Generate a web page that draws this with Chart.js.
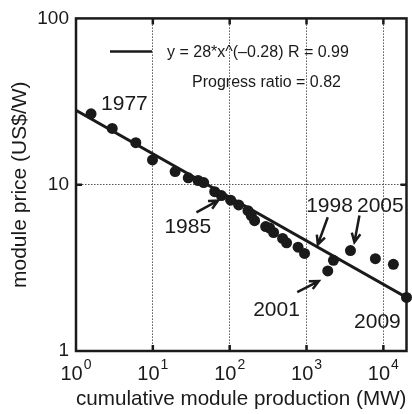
<!DOCTYPE html>
<html><head><meta charset="utf-8">
<script src="https://cdn.jsdelivr.net/npm/chart.js@4"></script>
<style>html,body{margin:0;padding:0;background:#fff}#c{display:block}</style>
</head><body>
<canvas id="c" width="412" height="414"></canvas>
<script>
// ---- data ----
const production = [1.57,2.96,6.0,9.9,19.5,28.9,38.8,45.9,63.8,78.0,103,131,173,191,211,294,331,373,488,550,776,942,1890,2240,3730,7870,13500,20000];
const price      = [26.7,21.8,17.9,14.1,12.0,11.0,10.6,10.3,9.08,8.6,8.07,7.56,6.98,6.52,6.08,5.6,5.49,5.16,4.75,4.47,4.21,3.86,3.03,3.51,4.02,3.59,3.32,2.1];
const fitX = [1, 20000];
const fitY = [28, 2.1];
const xTicks = [1, 10, 100, 1000, 10000];
const xTickExp = ['0','1','2','3','4'];
const yTicks = [1, 10, 100];
const legendLines = ['y = 28*x^(\u20130.28) R = 0.99', 'Progress ratio = 0.82'];
const yearLabels = ['1977','1985','1998','2005','2001','2009'];
const yearLabelAt = [[4.27,31.1],[28.5,5.6],[1990,7.48],[9140,7.48],[407,1.785],[8360,1.51]];
const arrowFrom = [[36.9,6.82],[1890,6.37],[4880,6.52],[757,2.26]];
const arrowTo   = [[70.5,8.02],[1403,4.37],[4200,4.51],[1445,2.63]];
const xTitle = 'cumulative module production (MW)';
const yTitle = 'module price (US$/W)';

const FONT = "'Liberation Sans', Arial, Helvetica, sans-serif";
const INK = '#1a1a1a';

const overlay = {
  id: 'overlay',
  afterDraw(chart) {
    const {ctx, chartArea: a, scales: {x, y}} = chart;
    ctx.save();
    // frame
    ctx.strokeStyle = INK; ctx.lineWidth = 2.5;
    ctx.strokeRect(a.left, a.top, a.right - a.left, a.bottom - a.top);
    // inward ticks
    const tl = 6;
    ctx.beginPath();
    xTicks.slice(1).forEach(v => {
      const px = x.getPixelForValue(v);
      ctx.moveTo(px, a.top); ctx.lineTo(px, a.top + tl);
      ctx.moveTo(px, a.bottom); ctx.lineTo(px, a.bottom - tl);
    });
    yTicks.slice(1, -1).forEach(v => {
      const py = y.getPixelForValue(v);
      ctx.moveTo(a.left, py); ctx.lineTo(a.left + tl, py);
      ctx.moveTo(a.right, py); ctx.lineTo(a.right - tl, py);
    });
    ctx.stroke();
    // x tick labels with superscripts
    ctx.fillStyle = INK; ctx.textBaseline = 'alphabetic'; ctx.textAlign = 'left';
    xTicks.forEach((v, i) => {
      const px = x.getPixelForValue(v);
      ctx.font = '20px ' + FONT; const wb = ctx.measureText('10').width;
      ctx.font = '14px ' + FONT; const we = ctx.measureText(xTickExp[i]).width;
      const start = px - (wb + we + 1) / 2;
      ctx.font = '20px ' + FONT; ctx.fillText('10', start, a.bottom + 29);
      ctx.font = '14px ' + FONT; ctx.fillText(xTickExp[i], start + wb + 1, a.bottom + 18);
    });
    // legend
    ctx.lineWidth = 2.5;
    ctx.beginPath();
    ctx.moveTo(a.left + 34, a.top + 33); ctx.lineTo(a.left + 76, a.top + 33);
    ctx.stroke();
    ctx.font = '16px ' + FONT; ctx.textBaseline = 'middle';
    ctx.fillText(legendLines[0], a.left + 91, a.top + 34);
    ctx.fillText(legendLines[1], a.left + 116, a.top + 64);
    // year annotations
    ctx.font = '21px ' + FONT; ctx.textAlign = 'center'; ctx.textBaseline = 'middle';
    yearLabels.forEach((t, i) => {
      ctx.fillText(t, x.getPixelForValue(yearLabelAt[i][0]), y.getPixelForValue(yearLabelAt[i][1]) + 1);
    });
    // arrows
    ctx.lineWidth = 2.5; ctx.lineJoin = 'miter';
    arrowFrom.forEach((f, i) => {
      const x0 = x.getPixelForValue(f[0]), y0 = y.getPixelForValue(f[1]);
      const x1 = x.getPixelForValue(arrowTo[i][0]), y1 = y.getPixelForValue(arrowTo[i][1]);
      const ang = Math.atan2(y1 - y0, x1 - x0), h = 10, sp = 0.45;
      ctx.beginPath();
      ctx.moveTo(x0, y0); ctx.lineTo(x1, y1);
      ctx.moveTo(x1 - h * Math.cos(ang - sp), y1 - h * Math.sin(ang - sp));
      ctx.lineTo(x1, y1);
      ctx.lineTo(x1 - h * Math.cos(ang + sp), y1 - h * Math.sin(ang + sp));
      ctx.stroke();
    });
    ctx.restore();
  }
};

const gridColor = (inner) => (c) => inner.includes(c.tick.value) ? '#555' : 'rgba(0,0,0,0)';

new Chart(document.getElementById('c'), {
  data: {
    datasets: [
      { type: 'line', data: fitX.map((v, i) => ({x: v, y: fitY[i]})), borderColor: INK, borderWidth: 2.8,
        pointRadius: 0, fill: false, tension: 0, order: 2 },
      { type: 'scatter', data: production.map((v, i) => ({x: v, y: price[i]})), backgroundColor: INK,
        borderWidth: 0, pointRadius: 5.5, pointHoverRadius: 5.5, clip: false, order: 1 }
    ]
  },
  options: {
    responsive: false, animation: false, devicePixelRatio: 1,
    layout: { padding: { top: 18, right: 4, left: 0, bottom: 0 } },
    plugins: { legend: { display: false }, tooltip: { enabled: false } },
    scales: {
      x: {
        type: 'logarithmic', min: 1, max: 20000,
        afterBuildTicks: s => { s.ticks = xTicks.map(v => ({value: v})); },
        afterFit: s => { s.height = 63; },
        ticks: { display: false },
        grid: { color: gridColor([10, 100, 1000, 10000]), lineWidth: 1, drawTicks: false },
        border: { display: false, dash: [1.5, 1.5] },
        title: { display: true, text: xTitle, color: INK, font: { family: FONT, size: 21, lineHeight: 1.2 },
                 padding: { top: 0, bottom: 2 } }
      },
      y: {
        type: 'logarithmic', min: 1, max: 100,
        afterBuildTicks: s => { s.ticks = yTicks.map(v => ({value: v})); },
        afterFit: s => { s.width = 76; },
        ticks: { color: INK, font: { family: FONT, size: 19 }, padding: 7, callback: v => String(v) },
        grid: { color: gridColor([10]), lineWidth: 1, drawTicks: false },
        border: { display: false, dash: [1.5, 1.5] },
        title: { display: true, text: yTitle, color: INK, font: { family: FONT, size: 21, lineHeight: 1.2 },
                 padding: { top: 8, bottom: 0 } }
      }
    }
  },
  plugins: [overlay]
});
</script>
</body></html>
